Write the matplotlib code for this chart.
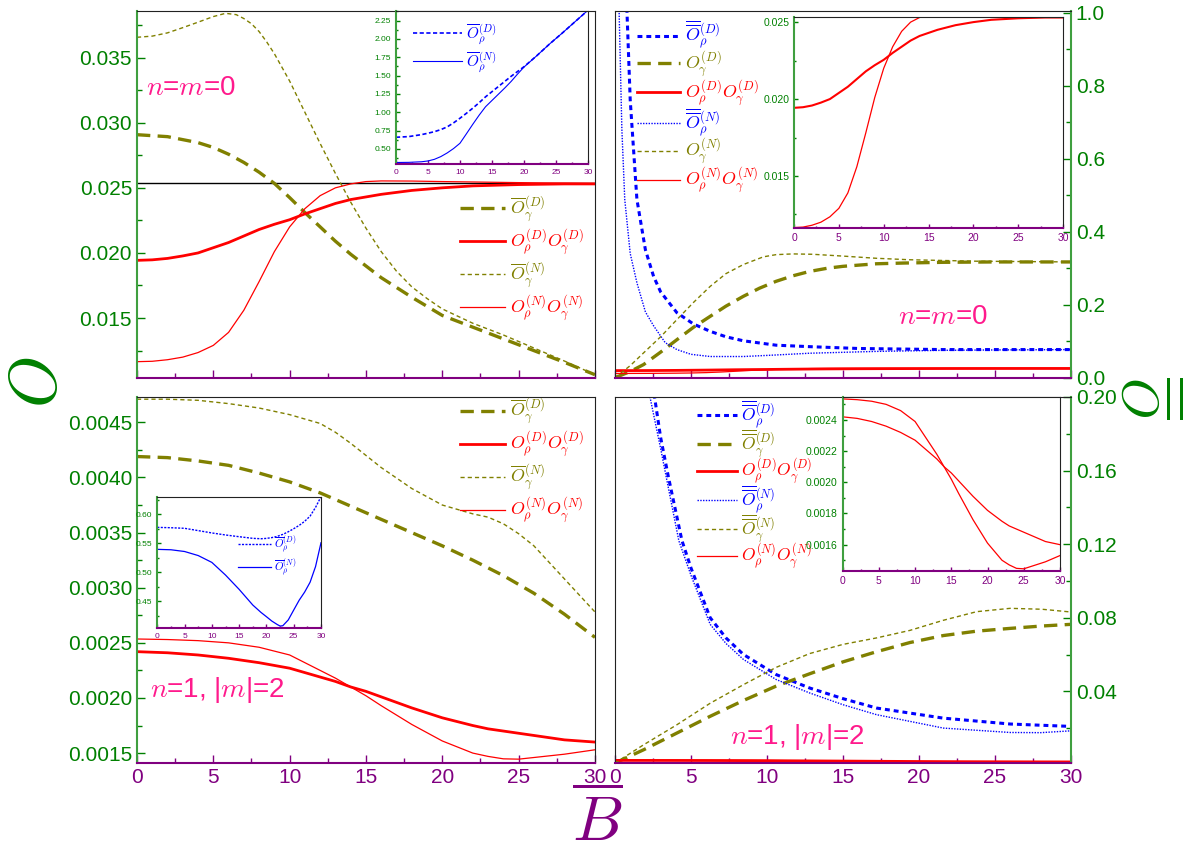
import matplotlib
matplotlib.use('Agg')
import matplotlib.pyplot as plt
from matplotlib.ticker import MultipleLocator, FormatStrFormatter

plt.rcParams['font.family'] = ['Liberation Sans', 'DejaVu Sans']
plt.rcParams['mathtext.fontset'] = 'cm'

VERDE = '#008000'
VERDE_EJE = '#3f9f3f'
MORADO = '#800080'
OLIVA = '#808000'
ROJO = '#ff0000'
AZUL = '#0000ff'
ROSA = '#ff1a8c'

# ---------------- datos n=m=0 (panel superior izquierdo) ----------------
B_gD_sup = [0, 2, 4, 5, 6, 7, 8, 9, 10, 11, 12, 13, 14, 15, 16, 18, 20, 22, 24, 26, 28, 30]
gam_D_sup = [0.02908, 0.02893, 0.02847, 0.0281, 0.02758, 0.02695, 0.0262, 0.02534, 0.02425, 0.0231, 0.0220,
             0.0209, 0.0199, 0.0190, 0.0181, 0.0166, 0.0152, 0.0143, 0.0134, 0.0125, 0.0116, 0.01065]
B_gN_sup = [0, 1, 2, 3, 4, 5, 5.8, 6.5, 7, 7.5, 8, 8.5, 9, 10, 11, 12, 13, 14, 15, 16, 17, 18, 19, 20,
            22, 24, 26, 28, 30]
gam_N_sup = [0.03656, 0.03665, 0.0369, 0.0373, 0.03772, 0.03815, 0.0384, 0.0383, 0.0380, 0.0376, 0.0370,
             0.0362, 0.0353, 0.0332, 0.0308, 0.0284, 0.0261, 0.0239, 0.0219, 0.0201, 0.0186, 0.0174, 0.0165,
             0.0157, 0.0146, 0.0137, 0.0127, 0.0117, 0.01065]
B_sup = [0, 1, 2, 3, 4, 5, 6, 7, 8, 9, 10, 11, 12, 13, 14, 15, 16, 18, 20, 22, 25, 28, 30]
prod_D_sup = [0.01943, 0.01947, 0.01958, 0.01977, 0.0200, 0.0204, 0.0208, 0.0213, 0.0218, 0.0222, 0.02255,
              0.0230, 0.0234, 0.0238, 0.0241, 0.0243, 0.0245, 0.0248, 0.0250, 0.02515, 0.02525, 0.0253, 0.0253]
prod_N_sup = [0.01165, 0.01168, 0.0118, 0.0120, 0.01235, 0.0129, 0.0139, 0.0156, 0.0178, 0.0201, 0.0220,
              0.0234, 0.0244, 0.0250, 0.0253, 0.02548, 0.02553, 0.02552, 0.02548, 0.02545, 0.0254, 0.02536, 0.02534]
asintota_sup = 0.02534

# inserto: O_rho (barra simple)
B_ins1 = [0, 2, 4, 5, 6, 7, 8, 9, 10, 11, 12, 13, 14, 15, 16, 17, 18, 19, 20, 22, 24, 26, 28, 30]
rho_D_ins1 = [0.659, 0.668, 0.695, 0.714, 0.735, 0.763, 0.80, 0.855, 0.918, 0.985, 1.055, 1.13, 1.21, 1.28,
              1.35, 1.42, 1.49, 1.555, 1.62, 1.77, 1.93, 2.08, 2.235, 2.39]
rho_N_ins1 = [0.315, 0.317, 0.325, 0.336, 0.358, 0.395, 0.445, 0.505, 0.577, 0.705, 0.835, 0.96, 1.075, 1.16,
              1.245, 1.33, 1.42, 1.52, 1.615, 1.77, 1.93, 2.08, 2.235, 2.39]

# panel superior derecho (barra doble)
B_rhoD_sd = [0.5, 0.77, 1.0, 1.44, 2.0, 2.54, 3, 4.07, 5.16, 6.26, 7.3, 8.45, 10.6, 12.8, 16, 21.6, 25, 30]
rhoD_sd = [1.5, 1.02, 0.76, 0.488, 0.35, 0.277, 0.235, 0.178, 0.147, 0.127, 0.112, 0.101, 0.089, 0.085,
           0.080, 0.077, 0.077, 0.077]
B_rhoN_sd = [0.15, 0.27, 0.45, 0.64, 1.0, 1.44, 2.0, 2.54, 3.3, 4.07, 5, 6.26, 8.45, 10.5, 12.8, 17.2, 21.6,
             25, 30]
rhoN_sd = [1.6, 1.0, 0.68, 0.488, 0.34, 0.26, 0.18, 0.142, 0.096, 0.077, 0.064, 0.058, 0.058, 0.062, 0.067,
           0.072, 0.075, 0.076, 0.077]
B_gamD_sd = [0, 1, 1.88, 3, 4.07, 5.16, 6.26, 7.3, 8.45, 9.5, 10.6, 11.7, 12.8, 14, 15, 17.2, 19, 21.6, 25, 30]
gamD_sd = [0, 0.017, 0.036, 0.07, 0.104, 0.138, 0.168, 0.196, 0.223, 0.245, 0.264, 0.279, 0.291, 0.300, 0.305,
           0.312, 0.314, 0.316, 0.317, 0.317]
B_gamN_sd = [0, 1, 1.88, 3, 4.07, 5.16, 6.26, 7.3, 8.45, 9.76, 10.6, 11.7, 13, 15, 17.2, 19.4, 21.6, 23.8,
             27, 30]
gamN_sd = [0, 0.033, 0.068, 0.112, 0.159, 0.206, 0.25, 0.285, 0.31, 0.331, 0.337, 0.339, 0.338, 0.333, 0.327,
           0.323, 0.321, 0.319, 0.318, 0.317]

# ---------------- datos n=1, |m|=2 ----------------
B_inf = [0, 2, 4, 6, 8, 10, 12, 13, 14, 15, 16, 18, 20, 22, 23, 24, 25, 26, 28, 30]
gam_D_inf = [0.00419, 0.00418, 0.00415, 0.00411, 0.00404, 0.00396, 0.00386, 0.00380, 0.00374, 0.00368, 0.00362,
             0.00350, 0.00338, 0.00325, 0.00318, 0.00311, 0.00303, 0.00295, 0.00276, 0.00255]
gam_N_inf = [0.00471, 0.00471, 0.00470, 0.00467, 0.00463, 0.00457, 0.00449, 0.00441, 0.00431, 0.00420, 0.00409,
             0.00390, 0.00375, 0.00367, 0.00364, 0.00358, 0.00349, 0.00338, 0.00308, 0.00278]
prod_D_inf = [0.00242, 0.00241, 0.00239, 0.00236, 0.00232, 0.00227, 0.00219, 0.00215, 0.00210, 0.00206, 0.00201,
              0.00191, 0.00182, 0.00175, 0.00172, 0.00170, 0.00168, 0.00166, 0.00162, 0.00160]
prod_N_inf = [0.002535, 0.00253, 0.00252, 0.00250, 0.00246, 0.00239, 0.00225, 0.00218, 0.00210, 0.00202, 0.00193,
              0.00176, 0.00161, 0.00150, 0.00147, 0.001448, 0.001445, 0.00146, 0.00149, 0.00153]

B_ins3 = [0, 2.5, 5, 7.5, 10, 12.5, 15, 17.5, 19, 20, 21, 22, 22.5, 23, 24, 25, 26, 27, 28, 29, 30]
rho_D_ins3 = [0.5776, 0.577, 0.576, 0.572, 0.568, 0.5645, 0.5615, 0.5587, 0.558, 0.5586, 0.560, 0.562, 0.564,
              0.5655, 0.570, 0.5753, 0.581, 0.588, 0.597, 0.612, 0.6305]
rho_N_ins3 = [0.5397, 0.539, 0.536, 0.529, 0.5172, 0.4954, 0.4707, 0.4437, 0.431, 0.4236, 0.416, 0.410, 0.4075,
              0.408, 0.418, 0.4351, 0.452, 0.466, 0.483, 0.510, 0.5511]

B_rhoD_id = [2.0, 2.3, 2.6, 3, 3.5, 4.4, 5, 6.26, 7.3, 8.45, 10.6, 12.8, 15, 17.2, 21.6, 26, 30]
rhoD_id = [0.24, 0.215, 0.20, 0.178, 0.157, 0.122, 0.107, 0.080, 0.069, 0.060, 0.0491, 0.0418, 0.036, 0.0309,
           0.0254, 0.0222, 0.0209]
B_rhoN_id = [1.8, 2.0, 2.3, 3, 3.5, 4.2, 5, 6.26, 7.3, 8.45, 10.6, 12.8, 15, 17.2, 21.6, 26, 28, 30]
rhoN_id = [0.23, 0.215, 0.20, 0.172, 0.151, 0.1218, 0.103, 0.0764, 0.066, 0.0573, 0.0464, 0.0391, 0.0327, 0.0273,
           0.020, 0.0176, 0.0175, 0.0185]
B_gam_id = [0, 1.88, 4.07, 6.26, 8.45, 10.6, 12.8, 15, 17.2, 19.4, 21.6, 23.8, 26, 28.1, 30]
gamD_id = [0.001, 0.0082, 0.0173, 0.0264, 0.0350, 0.0428, 0.0495, 0.0560, 0.0615, 0.0665, 0.0703, 0.0727, 0.0742,
           0.0755, 0.0764]
gamN_id = [0.001, 0.0109, 0.0218, 0.0335, 0.0436, 0.0530, 0.0605, 0.0655, 0.0690, 0.0731, 0.0786, 0.0833, 0.0851,
           0.0846, 0.0831]

# etiquetas
lab_gD = r'$\overline{O}_{\gamma}^{(D)}$'
lab_gN = r'$\overline{O}_{\gamma}^{(N)}$'
lab_pD = r'$O_{\rho}^{(D)}O_{\gamma}^{(D)}$'
lab_pN = r'$O_{\rho}^{(N)}O_{\gamma}^{(N)}$'
lab_rD = r'$\overline{O}_{\rho}^{(D)}$'
lab_rN = r'$\overline{O}_{\rho}^{(N)}$'
lab_rrD = r'$\overline{\overline{O}}_{\rho}^{(D)}$'
lab_rrN = r'$\overline{\overline{O}}_{\rho}^{(N)}$'
lab_ggD = r'$\overline{\overline{O}}_{\gamma}^{(D)}$'
lab_ggN = r'$\overline{\overline{O}}_{\gamma}^{(N)}$'

# estilos de linea
st_gD = dict(color=OLIVA, lw=2.4, dashes=(4, 2.2))
st_gN = dict(color=OLIVA, lw=1.0, dashes=(3, 2.2))
st_pD = dict(color=ROJO, lw=2.0)
st_pN = dict(color=ROJO, lw=0.9)
st_rD = dict(color=AZUL, lw=2.2, dashes=(1.6, 1.3))
st_rN = dict(color=AZUL, lw=1.0, dashes=(1, 1))


def estilo(ax, lado='left', etiquetas_x=True, fs=15, largo=6):
    for s in ax.spines.values():
        s.set_color('#222222')
    ax.spines['bottom'].set_color(MORADO)
    ax.spines[lado].set_color(VERDE_EJE)
    ax.spines['bottom'].set_linewidth(1.5)
    ax.spines[lado].set_linewidth(1.5)
    ax.tick_params(axis='x', which='both', direction='in', color=MORADO, labelcolor=MORADO,
                   labelsize=fs, labelbottom=etiquetas_x, top=False)
    ax.tick_params(axis='y', which='both', direction='in', color=VERDE, labelcolor=VERDE, labelsize=fs,
                   left=(lado == 'left'), labelleft=(lado == 'left'),
                   right=(lado == 'right'), labelright=(lado == 'right'))
    ax.tick_params(which='major', length=largo, width=1)
    ax.tick_params(which='minor', length=largo * 0.55, width=1)
    ax.set_xlim(0, 30)
    ax.xaxis.set_major_locator(MultipleLocator(5))
    ax.xaxis.set_minor_locator(MultipleLocator(2.5))


def leyenda(ax, lineas, etiquetas, colores, anchor, fs, sep, hl):
    leg = ax.legend(lineas, etiquetas, loc='upper left', bbox_to_anchor=anchor, frameon=False, fontsize=fs,
                    labelspacing=sep, handlelength=hl, handletextpad=0.25, borderpad=0, borderaxespad=0)
    for t, c in zip(leg.get_texts(), colores):
        t.set_color(c)
    return leg


fig = plt.figure(figsize=(11.88, 8.58), dpi=100)

ax_si = fig.add_axes([0.1153, 0.5598, 0.3855, 0.4277])
ax_sd = fig.add_axes([0.5177, 0.5598, 0.3838, 0.4277])
ax_ii = fig.add_axes([0.1153, 0.1107, 0.3855, 0.4266])
ax_id = fig.add_axes([0.5177, 0.1107, 0.3838, 0.4266])

# ---- superior izquierdo ----
estilo(ax_si, 'left', etiquetas_x=False)
ax_si.set_ylim(0.01042, 0.0386)
ax_si.yaxis.set_major_locator(MultipleLocator(0.005))
ax_si.yaxis.set_minor_locator(MultipleLocator(0.0025))
ax_si.yaxis.set_major_formatter(FormatStrFormatter('%.3f'))
ax_si.axhline(asintota_sup, color='black', lw=1)
l1, = ax_si.plot(B_gD_sup, gam_D_sup, **st_gD)
l2, = ax_si.plot(B_sup, prod_D_sup, **st_pD)
l3, = ax_si.plot(B_gN_sup, gam_N_sup, **st_gN)
l4, = ax_si.plot(B_sup, prod_N_sup, **st_pN)
leyenda(ax_si, [l1, l2, l3, l4], [lab_gD, lab_pD, lab_gN, lab_pN], [OLIVA, ROJO, OLIVA, ROJO],
        (0.705, 0.50), 13, 0.14, 2.5)
ax_si.text(0.02, 0.79, r'$n$=$m$=0', transform=ax_si.transAxes, color=ROSA, fontsize=20, va='center')

# ---- superior derecho ----
estilo(ax_sd, 'right', etiquetas_x=False)
ax_sd.set_ylim(0, 1.005)
ax_sd.yaxis.set_major_locator(MultipleLocator(0.2))
ax_sd.yaxis.set_minor_locator(MultipleLocator(0.1))
ax_sd.yaxis.set_major_formatter(FormatStrFormatter('%.1f'))
m1, = ax_sd.plot(B_rhoD_sd, rhoD_sd, **st_rD)
m2, = ax_sd.plot(B_gamD_sd, gamD_sd, **st_gD)
m3, = ax_sd.plot(B_sup, prod_D_sup, **st_pD)
m4, = ax_sd.plot(B_rhoN_sd, rhoN_sd, **st_rN)
m5, = ax_sd.plot(B_gamN_sd, gamN_sd, **st_gN)
m6, = ax_sd.plot(B_sup, prod_N_sup, **st_pN)
leyenda(ax_sd, [m1, m2, m3, m4, m5, m6],
        [lab_rrD, r'$O_{\gamma}^{(D)}$', lab_pD, lab_rrN, r'$O_{\gamma}^{(N)}$', lab_pN],
        [AZUL, OLIVA, ROJO, AZUL, OLIVA, ROJO], (0.048, 0.977), 13, -0.1, 2.4)
ax_sd.text(0.62, 0.165, r'$n$=$m$=0', transform=ax_sd.transAxes, color=ROSA, fontsize=20, va='center')

# ---- inferior izquierdo ----
estilo(ax_ii, 'left', etiquetas_x=True)
ax_ii.set_ylim(0.00141, 0.00473)
ax_ii.yaxis.set_major_locator(MultipleLocator(0.0005))
ax_ii.yaxis.set_minor_locator(MultipleLocator(0.00025))
ax_ii.yaxis.set_major_formatter(FormatStrFormatter('%.4f'))
n1, = ax_ii.plot(B_inf, gam_D_inf, **st_gD)
n2, = ax_ii.plot(B_inf, prod_D_inf, **st_pD)
n3, = ax_ii.plot(B_inf, gam_N_inf, **st_gN)
n4, = ax_ii.plot(B_inf, prod_N_inf, **st_pN)
leyenda(ax_ii, [n1, n2, n3, n4], [lab_gD, lab_pD, lab_gN, lab_pN], [OLIVA, ROJO, OLIVA, ROJO],
        (0.705, 1.0), 13, 0.14, 2.5)
ax_ii.text(0.028, 0.2, r'$n$=1, |$m$|=2', transform=ax_ii.transAxes, color=ROSA, fontsize=20, va='center')

# ---- inferior derecho ----
estilo(ax_id, 'right', etiquetas_x=True)
ax_id.set_ylim(0.001, 0.2)
ax_id.yaxis.set_major_locator(MultipleLocator(0.04))
ax_id.yaxis.set_minor_locator(MultipleLocator(0.02))
ax_id.yaxis.set_major_formatter(FormatStrFormatter('%.2f'))
k1, = ax_id.plot(B_rhoD_id, rhoD_id, **st_rD)
k2, = ax_id.plot(B_gam_id, gamD_id, **st_gD)
k3, = ax_id.plot(B_inf, prod_D_inf, **st_pD)
k4, = ax_id.plot(B_rhoN_id, rhoN_id, **st_rN)
k5, = ax_id.plot(B_gam_id, gamN_id, **st_gN)
k6, = ax_id.plot(B_inf, prod_N_inf, **st_pN)
leyenda(ax_id, [k1, k2, k3, k4, k5, k6], [lab_rrD, lab_ggD, lab_pD, lab_rrN, lab_ggN, lab_pN],
        [AZUL, OLIVA, ROJO, AZUL, OLIVA, ROJO], (0.179, 0.995), 12.5, -0.18, 2.3)
ax_id.text(0.252, 0.072, r'$n$=1, |$m$|=2', transform=ax_id.transAxes, color=ROSA, fontsize=20, va='center')

# ---------------- insertos ----------------
ins1 = fig.add_axes([0.3333, 0.8089, 0.1616, 0.1783])
estilo(ins1, 'left', fs=6, largo=3)
ins1.set_ylim(0.295, 2.38)
ins1.yaxis.set_major_locator(MultipleLocator(0.25))
ins1.yaxis.set_minor_locator(MultipleLocator(0.125))
ins1.yaxis.set_major_formatter(FormatStrFormatter('%.2f'))
a1, = ins1.plot(B_ins1, rho_D_ins1, color=AZUL, lw=1.2, dashes=(2.5, 1.5))
a2, = ins1.plot(B_ins1, rho_N_ins1, color=AZUL, lw=0.8)
leyenda(ins1, [a1, a2], [lab_rD, lab_rN], [AZUL, AZUL], (0.09, 0.93), 11, 0.2, 3.2)

ins2 = fig.add_axes([0.6684, 0.7339, 0.2264, 0.2466])
estilo(ins2, 'left', fs=7.5, largo=3)
ins2.set_ylim(0.0116, 0.02535)
ins2.yaxis.set_major_locator(MultipleLocator(0.005))
ins2.yaxis.set_minor_locator(MultipleLocator(0.0025))
ins2.yaxis.set_major_formatter(FormatStrFormatter('%.3f'))
ins2.plot(B_sup, prod_D_sup, color=ROJO, lw=1.5)
ins2.plot(B_sup, prod_N_sup, color=ROJO, lw=0.9)

ins3 = fig.add_axes([0.1324, 0.2684, 0.1378, 0.1527])
estilo(ins3, 'left', fs=6, largo=3)
ins3.set_ylim(0.4046, 0.6305)
ins3.yaxis.set_major_locator(MultipleLocator(0.05))
ins3.yaxis.set_minor_locator(MultipleLocator(0.025))
ins3.yaxis.set_major_formatter(FormatStrFormatter('%.2f'))
b1, = ins3.plot(B_ins3, rho_D_ins3, color=AZUL, lw=1.0, dashes=(1.5, 1))
b2, = ins3.plot(B_ins3, rho_N_ins3, color=AZUL, lw=0.9)
leyenda(ins3, [b1, b2], [lab_rD, lab_rN], [AZUL, AZUL], (0.49, 0.72), 8, 0.2, 3.0)

ins4 = fig.add_axes([0.7093, 0.3345, 0.1829, 0.2024])
estilo(ins4, 'left', fs=7.5, largo=3)
ins4.set_ylim(0.001431, 0.002545)
ins4.yaxis.set_major_locator(MultipleLocator(0.0002))
ins4.yaxis.set_minor_locator(MultipleLocator(0.0001))
ins4.yaxis.set_major_formatter(FormatStrFormatter('%.4f'))
ins4.plot(B_inf, prod_D_inf, color=ROJO, lw=0.9)
ins4.plot(B_inf, prod_N_inf, color=ROJO, lw=0.9)

# ---------------- etiquetas de ejes ----------------
fig.text(0.031, 0.555, r'$\overline{O}$', rotation=90, color=VERDE, fontsize=48, ha='center', va='center')
fig.text(0.993, 0.537, r'$\overline{\overline{O}}$', rotation=-90, color=VERDE, fontsize=38,
         ha='right', va='center')
fig.text(0.5025, 0.04, r'$\overline{B}$', color=MORADO, fontsize=46, ha='center', va='center')

fig.savefig('out.png', dpi=100)
